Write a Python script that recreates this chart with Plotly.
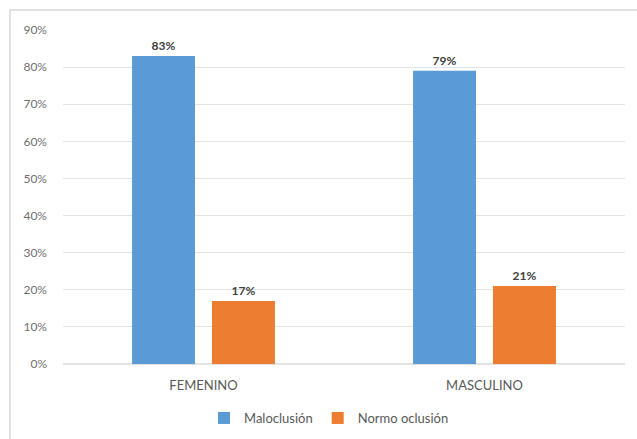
import plotly.graph_objects as go

categories = ["FEMENINO", "MASCULINO"]
maloclusion = [0.83, 0.79]
normo_oclusion = [0.17, 0.21]
series_names = ["Maloclusión", "Normo oclusión"]
y_ticks = [0, 0.1, 0.2, 0.3, 0.4, 0.5, 0.6, 0.7, 0.8, 0.9]

blue = "#5B9BD5"
orange = "#ED7D31"
font_family = "Lato, 'Open Sans', sans-serif"

W, H = 637, 439
ML, MR, MT, MB = 63, 12, 30, 75
pw, ph = W - ML - MR, H - MT - MB

fig = go.Figure()
for name, vals, color in [(series_names[0], maloclusion, blue),
                          (series_names[1], normo_oclusion, orange)]:
    fig.add_trace(go.Bar(
        x=categories, y=vals, name=name,
        marker=dict(color=color, line=dict(width=0)),
        text=[f"{round(v * 100)}%" for v in vals],
        textposition="outside",
        textfont=dict(family=font_family, size=12, color="#404040", weight="bold"),
        cliponaxis=False,
    ))

fig.update_layout(
    width=W, height=H,
    margin=dict(l=ML, r=MR, t=MT, b=MB, autoexpand=False),
    paper_bgcolor="white", plot_bgcolor="white",
    barmode="group", bargap=0.431, bargroupgap=0.2125,
    font=dict(family=font_family, size=12, color="#595959"),
    showlegend=True,
    legend=dict(orientation="h", xref="container", x=(216 + 442) / 2 / W, xanchor="center",
                yref="container", y=1 - 418 / H, yanchor="middle",
                font=dict(size=13, color="#595959"), itemwidth=30),
    xaxis=dict(showline=False, ticks="", ticklabelstandoff=12,
               tickfont=dict(size=13, color="#595959")),
    yaxis=dict(range=[0, 0.9], tickvals=y_ticks, tickformat=".0%",
               gridcolor="#E3E3E3", gridwidth=1, zeroline=True, zerolinecolor="#E3E3E3",
               showline=False, ticks="", ticklabelstandoff=15,
               tickfont=dict(size=12, color="#707070")),
    shapes=[dict(type="rect", xref="paper", yref="paper",
                 x0=(10 - ML) / pw, x1=(W + 5 - ML) / pw,
                 y0=-(H + 5 - MT - ph) / ph, y1=1 + (MT - 10) / ph,
                 line=dict(color="#D9D9D9", width=1.5), layer="below")],
)

fig.write_html("out.html")
